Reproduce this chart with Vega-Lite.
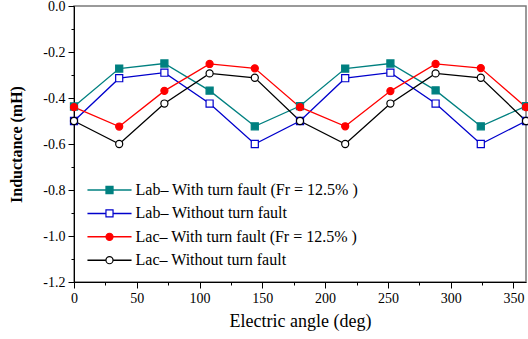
{
  "$schema": "https://vega.github.io/schema/vega-lite/v6.json",
  "width": 452,
  "height": 276,
  "autosize": {"type": "none"},
  "padding": {"left": 74, "top": 6, "right": 2, "bottom": 57},
  "background": "white",
  "config": {
    "font": "Liberation Serif",
    "view": {"stroke": "#7a7a7a", "strokeWidth": 1.5},
    "axis": {"grid": false, "domainColor": "black", "tickColor": "black", "labelColor": "black", "titleColor": "black", "labelFont": "Liberation Serif", "labelFontSize": 14}
  },
  "data": {
    "values": [
      {"angle": 0, "L": -0.437, "series": "Lab– With turn fault (Fr = 12.5% )"},
      {"angle": 36, "L": -0.272, "series": "Lab– With turn fault (Fr = 12.5% )"},
      {"angle": 72, "L": -0.250, "series": "Lab– With turn fault (Fr = 12.5% )"},
      {"angle": 108, "L": -0.368, "series": "Lab– With turn fault (Fr = 12.5% )"},
      {"angle": 144, "L": -0.523, "series": "Lab– With turn fault (Fr = 12.5% )"},
      {"angle": 180, "L": -0.435, "series": "Lab– With turn fault (Fr = 12.5% )"},
      {"angle": 216, "L": -0.272, "series": "Lab– With turn fault (Fr = 12.5% )"},
      {"angle": 252, "L": -0.250, "series": "Lab– With turn fault (Fr = 12.5% )"},
      {"angle": 288, "L": -0.367, "series": "Lab– With turn fault (Fr = 12.5% )"},
      {"angle": 324, "L": -0.523, "series": "Lab– With turn fault (Fr = 12.5% )"},
      {"angle": 360, "L": -0.435, "series": "Lab– With turn fault (Fr = 12.5% )"},
      {"angle": 0, "L": -0.500, "series": "Lab– Without turn fault"},
      {"angle": 36, "L": -0.314, "series": "Lab– Without turn fault"},
      {"angle": 72, "L": -0.290, "series": "Lab– Without turn fault"},
      {"angle": 108, "L": -0.424, "series": "Lab– Without turn fault"},
      {"angle": 144, "L": -0.600, "series": "Lab– Without turn fault"},
      {"angle": 180, "L": -0.500, "series": "Lab– Without turn fault"},
      {"angle": 216, "L": -0.314, "series": "Lab– Without turn fault"},
      {"angle": 252, "L": -0.290, "series": "Lab– Without turn fault"},
      {"angle": 288, "L": -0.424, "series": "Lab– Without turn fault"},
      {"angle": 324, "L": -0.600, "series": "Lab– Without turn fault"},
      {"angle": 360, "L": -0.500, "series": "Lab– Without turn fault"},
      {"angle": 0, "L": -0.440, "series": "Lac– With turn fault (Fr = 12.5% )"},
      {"angle": 36, "L": -0.524, "series": "Lac– With turn fault (Fr = 12.5% )"},
      {"angle": 72, "L": -0.369, "series": "Lac– With turn fault (Fr = 12.5% )"},
      {"angle": 108, "L": -0.252, "series": "Lac– With turn fault (Fr = 12.5% )"},
      {"angle": 144, "L": -0.271, "series": "Lac– With turn fault (Fr = 12.5% )"},
      {"angle": 180, "L": -0.440, "series": "Lac– With turn fault (Fr = 12.5% )"},
      {"angle": 216, "L": -0.523, "series": "Lac– With turn fault (Fr = 12.5% )"},
      {"angle": 252, "L": -0.370, "series": "Lac– With turn fault (Fr = 12.5% )"},
      {"angle": 288, "L": -0.252, "series": "Lac– With turn fault (Fr = 12.5% )"},
      {"angle": 324, "L": -0.270, "series": "Lac– With turn fault (Fr = 12.5% )"},
      {"angle": 360, "L": -0.440, "series": "Lac– With turn fault (Fr = 12.5% )"},
      {"angle": 0, "L": -0.500, "series": "Lac– Without turn fault"},
      {"angle": 36, "L": -0.600, "series": "Lac– Without turn fault"},
      {"angle": 72, "L": -0.424, "series": "Lac– Without turn fault"},
      {"angle": 108, "L": -0.293, "series": "Lac– Without turn fault"},
      {"angle": 144, "L": -0.312, "series": "Lac– Without turn fault"},
      {"angle": 180, "L": -0.500, "series": "Lac– Without turn fault"},
      {"angle": 216, "L": -0.600, "series": "Lac– Without turn fault"},
      {"angle": 252, "L": -0.424, "series": "Lac– Without turn fault"},
      {"angle": 288, "L": -0.293, "series": "Lac– Without turn fault"},
      {"angle": 324, "L": -0.312, "series": "Lac– Without turn fault"},
      {"angle": 360, "L": -0.500, "series": "Lac– Without turn fault"}
    ]
  },
  "encoding": {
    "x": {
      "field": "angle", "type": "quantitative",
      "scale": {"domain": [0, 360], "nice": false},
      "axis": {
        "title": "Electric angle (deg)",
        "titleFont": "Liberation Serif", "labelFont": "Liberation Serif",
        "titleFontSize": 18, "titleFontWeight": "normal", "titlePadding": 7,
        "labelFontSize": 14, "labelPadding": 3,
        "values": [0, 25, 50, 75, 100, 125, 150, 175, 200, 225, 250, 275, 300, 325, 350],
        "labelExpr": "datum.value % 50 === 0 ? datum.label : ''",
        "tickSize": {"condition": {"test": "datum.value % 50 !== 0", "value": 3}, "value": 6},
        "labelFlush": false,
        "encode": {"labels": {"update": {"font": {"value": "Liberation Serif"}, "fontSize": {"value": 14}}}}
      }
    },
    "y": {
      "field": "L", "type": "quantitative",
      "scale": {"domain": [-1.2, 0], "nice": false},
      "axis": {
        "title": "Inductance (mH)",
        "titleFont": "Liberation Serif", "labelFont": "Liberation Serif",
        "titleFontSize": 16, "titleFontWeight": "bold", "titlePadding": 18,
        "labelFontSize": 14, "labelPadding": 3,
        "values": [0, -0.1, -0.2, -0.3, -0.4, -0.5, -0.6, -0.7, -0.8, -0.9, -1.0, -1.1, -1.2],
        "labelExpr": "round(datum.value * 10) % 2 === 0 ? replace(format(datum.value, '.1f'), '−', '-') : ''",
        "tickSize": {"condition": {"test": "round(datum.value * 10) % 2 !== 0", "value": 3}, "value": 6},
        "labelFlush": false,
        "encode": {"labels": {"update": {"font": {"value": "Liberation Serif"}, "fontSize": {"value": 14}}}}
      }
    }
  },
  "layer": [
    {
      "mark": {"type": "line", "strokeWidth": 1.3},
      "encoding": {
        "color": {
          "field": "series", "type": "nominal",
          "scale": {
            "domain": ["Lab– With turn fault (Fr = 12.5% )", "Lab– Without turn fault", "Lac– With turn fault (Fr = 12.5% )", "Lac– Without turn fault"],
            "range": ["#008080", "#0000cc", "#ff0000", "#000000"]
          },
          "legend": {
            "title": null, "orient": "none", "legendX": 27.5, "legendY": 176, "padding": 0,
            "symbolType": "M-6,0H6", "symbolSize": 54, "symbolStrokeWidth": 1.5,
            "labelFont": "Liberation Serif", "labelFontSize": 16, "labelOffset": 18, "rowPadding": 7.4, "labelLimit": 400
          }
        }
      }
    },
    {
      "mark": {"type": "point", "opacity": 1, "strokeWidth": 1.2, "size": 50},
      "encoding": {
        "stroke": {
          "field": "series", "type": "nominal",
          "scale": {"range": ["#008080", "#0000cc", "#ff0000", "#000000"]},
          "legend": {
            "title": null, "orient": "none", "legendX": 27.5, "legendY": 176, "padding": 0,
            "symbolSize": 50, "symbolStrokeWidth": 1.2,
            "labelFont": "Liberation Serif", "labelFontSize": 16, "labelOffset": 18, "rowPadding": 7.4, "labelOpacity": 0, "labelLimit": 400
          }
        },
        "fill": {
          "field": "series", "type": "nominal",
          "scale": {"range": ["#008080", "#ffffff", "#ff0000", "#ffffff"]}
        },
        "shape": {
          "field": "series", "type": "nominal",
          "scale": {"range": ["square", "square", "circle", "circle"]}
        }
      }
    }
  ]
}
